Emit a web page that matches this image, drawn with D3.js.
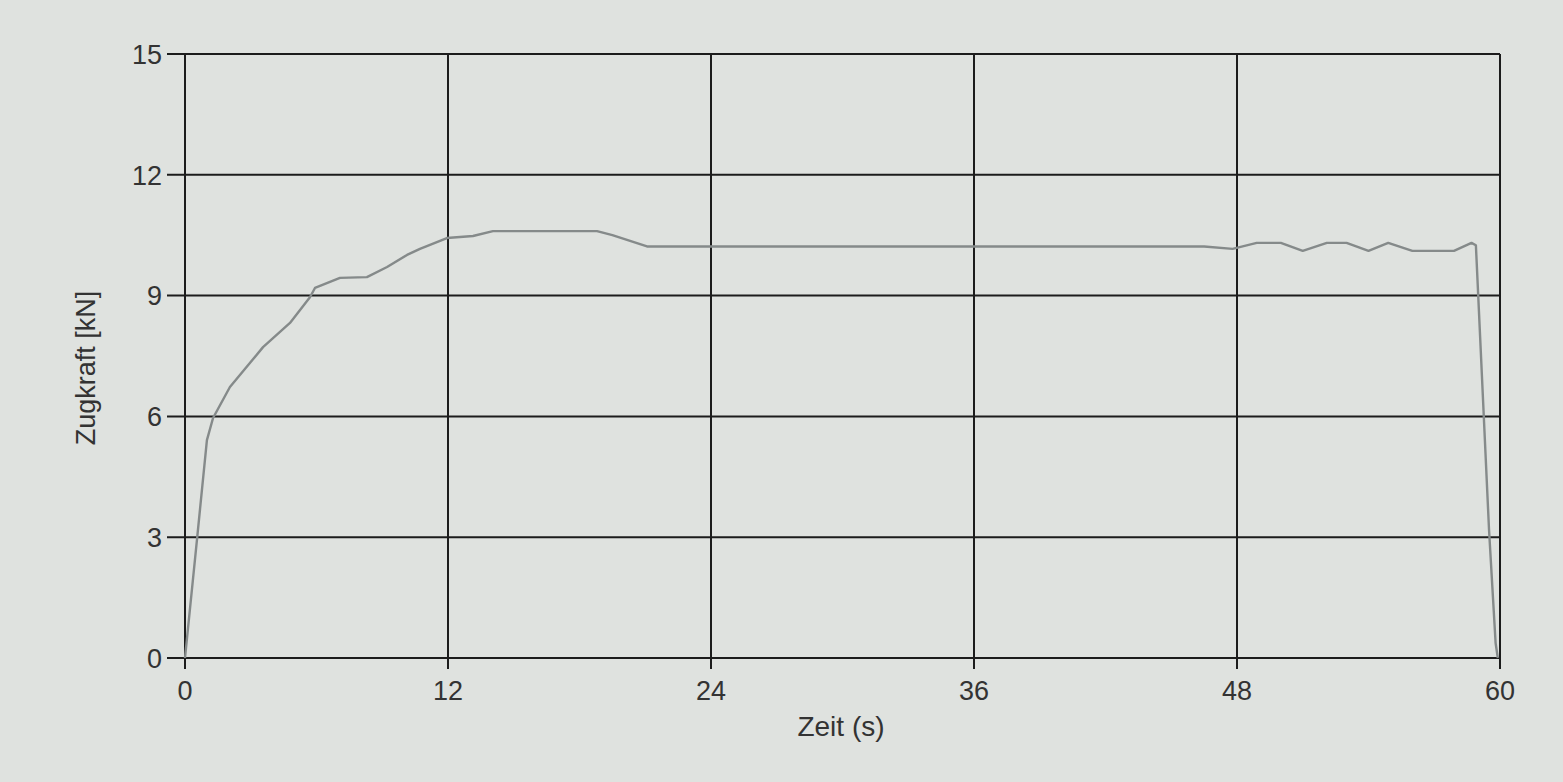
<!DOCTYPE html>
<html>
<head>
<meta charset="utf-8">
<script src="https://cdn.jsdelivr.net/npm/d3@7"></script>
<style>
  html, body { margin: 0; padding: 0; background: #dfe2df; }
  svg { display: block; }
  text { font-family: "Liberation Sans", Arial, sans-serif; fill: #333; }
</style>
</head>
<body>
<svg id="chart" width="1563" height="782"></svg>
<script>
const timeSec = [0, 0.55, 1.0, 1.28, 2.05, 3.56, 4.79, 5.70, 5.93, 7.07, 8.30, 9.22, 10.13, 10.72, 11.95, 13.14, 14.05, 18.8, 19.5, 21.08, 46.5, 47.8, 48.9, 50.0, 51.0, 52.1, 53.0, 54.0, 54.9, 56.0, 57.9, 58.7, 58.9, 59.5, 59.8, 59.9];
const forceKN = [0, 2.96, 5.41, 5.96, 6.73, 7.72, 8.32, 8.96, 9.19, 9.44, 9.46, 9.71, 10.01, 10.16, 10.43, 10.48, 10.60, 10.60, 10.50, 10.22, 10.22, 10.16, 10.31, 10.31, 10.11, 10.31, 10.31, 10.11, 10.31, 10.11, 10.11, 10.31, 10.25, 3.18, 0.37, 0];
const xTicks = [0, 12, 24, 36, 48, 60];
const yTicks = [0, 3, 6, 9, 12, 15];
const xTitle = "Zeit (s)";
const yTitle = "Zugkraft [kN]";

const svg = d3.select("#chart");
const mLeft = 185, mRight = 1500, mTop = 54, mBottom = 658;
const x = d3.scaleLinear().domain([0, 60]).range([mLeft, mRight]);
const y = d3.scaleLinear().domain([0, 15]).range([mBottom, mTop]);

const gridColor = "#1c1c1c";

// horizontal grid lines (with tick extension to the left)
svg.append("g").selectAll("line").data(yTicks).join("line")
  .attr("x1", mLeft - 18).attr("x2", mRight)
  .attr("y1", d => y(d)).attr("y2", d => y(d))
  .attr("stroke", gridColor).attr("stroke-width", 2);

// vertical grid lines (with tick extension below)
svg.append("g").selectAll("line").data(xTicks).join("line")
  .attr("x1", d => x(d)).attr("x2", d => x(d))
  .attr("y1", mTop).attr("y2", mBottom + 11)
  .attr("stroke", gridColor).attr("stroke-width", 2);

// y tick labels
svg.append("g").selectAll("text").data(yTicks).join("text")
  .attr("x", mLeft - 23).attr("y", d => y(d))
  .attr("dy", "0.36em")
  .attr("text-anchor", "end")
  .attr("font-size", 27)
  .text(d => d);

// x tick labels
svg.append("g").selectAll("text").data(xTicks).join("text")
  .attr("x", d => x(d)).attr("y", 700)
  .attr("text-anchor", "middle")
  .attr("font-size", 27)
  .text(d => d);

// axis titles
svg.append("text")
  .attr("x", 841).attr("y", 736)
  .attr("text-anchor", "middle")
  .attr("font-size", 28)
  .text(xTitle);

svg.append("text")
  .attr("transform", "translate(95,368) rotate(-90)")
  .attr("text-anchor", "middle")
  .attr("font-size", 27)
  .text(yTitle);

// data line
const pts = timeSec.map((t, i) => [t, forceKN[i]]);
svg.append("path")
  .datum(pts)
  .attr("fill", "none")
  .attr("stroke", "#858a8a")
  .attr("stroke-width", 2.4)
  .attr("stroke-linejoin", "round")
  .attr("d", d3.line().x(d => x(d[0])).y(d => y(d[1])));
</script>
</body>
</html>
